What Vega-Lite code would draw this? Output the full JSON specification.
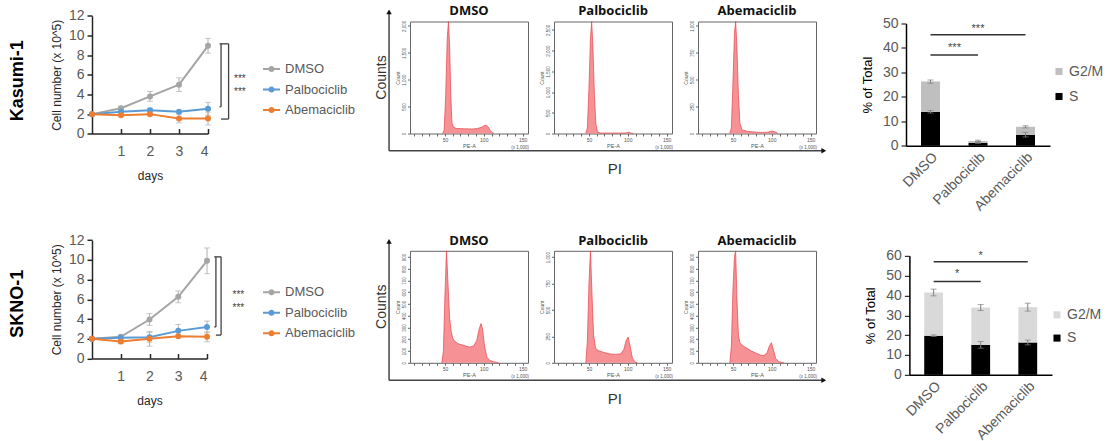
{
"$schema":"https://vega.github.io/schema/vega-lite/v6.json",
"background":"white",
"padding":{"left":8,"top":3.5,"right":2,"bottom":2},
"config":{"view":{"stroke":null},"font":"Liberation Sans","axis":{"labelFont":"Liberation Sans","titleFont":"Liberation Sans"},"legend":{"labelFont":"Liberation Sans"}},
"datasets":{
"growth":[
{"cell":"Kasumi-1","drug":"DMSO","day":0,"value":2.0},{"cell":"Kasumi-1","drug":"DMSO","day":1,"value":2.6},{"cell":"Kasumi-1","drug":"DMSO","day":2,"value":3.8},{"cell":"Kasumi-1","drug":"DMSO","day":3,"value":5.0},{"cell":"Kasumi-1","drug":"DMSO","day":4,"value":8.95},
{"cell":"Kasumi-1","drug":"Palbociclib","day":0,"value":2.0},{"cell":"Kasumi-1","drug":"Palbociclib","day":1,"value":2.25},{"cell":"Kasumi-1","drug":"Palbociclib","day":2,"value":2.4},{"cell":"Kasumi-1","drug":"Palbociclib","day":3,"value":2.25},{"cell":"Kasumi-1","drug":"Palbociclib","day":4,"value":2.55},
{"cell":"Kasumi-1","drug":"Abemaciclib","day":0,"value":2.0},{"cell":"Kasumi-1","drug":"Abemaciclib","day":1,"value":1.88},{"cell":"Kasumi-1","drug":"Abemaciclib","day":2,"value":2.0},{"cell":"Kasumi-1","drug":"Abemaciclib","day":3,"value":1.55},{"cell":"Kasumi-1","drug":"Abemaciclib","day":4,"value":1.55},
{"cell":"SKNO-1","drug":"DMSO","day":0,"value":2.0},{"cell":"SKNO-1","drug":"DMSO","day":1,"value":2.2},{"cell":"SKNO-1","drug":"DMSO","day":2,"value":3.95},{"cell":"SKNO-1","drug":"DMSO","day":3,"value":6.25},{"cell":"SKNO-1","drug":"DMSO","day":4,"value":9.9},
{"cell":"SKNO-1","drug":"Palbociclib","day":0,"value":2.0},{"cell":"SKNO-1","drug":"Palbociclib","day":1,"value":2.1},{"cell":"SKNO-1","drug":"Palbociclib","day":2,"value":2.15},{"cell":"SKNO-1","drug":"Palbociclib","day":3,"value":2.8},{"cell":"SKNO-1","drug":"Palbociclib","day":4,"value":3.2},
{"cell":"SKNO-1","drug":"Abemaciclib","day":0,"value":2.0},{"cell":"SKNO-1","drug":"Abemaciclib","day":1,"value":1.72},{"cell":"SKNO-1","drug":"Abemaciclib","day":2,"value":2.0},{"cell":"SKNO-1","drug":"Abemaciclib","day":3,"value":2.25},{"cell":"SKNO-1","drug":"Abemaciclib","day":4,"value":2.2}
],
"growthErr":[
{"cell":"Kasumi-1","day":1,"lo":2.4,"hi":2.8},{"cell":"Kasumi-1","day":2,"lo":3.3,"hi":4.3},{"cell":"Kasumi-1","day":3,"lo":4.3,"hi":5.7},{"cell":"Kasumi-1","day":4,"lo":8.2,"hi":9.7},
{"cell":"Kasumi-1","day":2,"lo":2.2,"hi":2.6},{"cell":"Kasumi-1","day":4,"lo":1.9,"hi":3.2},
{"cell":"Kasumi-1","day":3,"lo":1.1,"hi":2.0},{"cell":"Kasumi-1","day":4,"lo":0.9,"hi":2.2},
{"cell":"SKNO-1","day":1,"lo":2.05,"hi":2.35},{"cell":"SKNO-1","day":2,"lo":3.35,"hi":4.55},{"cell":"SKNO-1","day":3,"lo":5.65,"hi":6.85},{"cell":"SKNO-1","day":4,"lo":8.6,"hi":11.2},
{"cell":"SKNO-1","day":2,"lo":1.65,"hi":2.65},{"cell":"SKNO-1","day":3,"lo":2.15,"hi":3.45},{"cell":"SKNO-1","day":4,"lo":2.6,"hi":3.8},
{"cell":"SKNO-1","day":1,"lo":1.5,"hi":1.95},{"cell":"SKNO-1","day":2,"lo":1.25,"hi":2.75},{"cell":"SKNO-1","day":4,"lo":1.7,"hi":2.7}
],
"brackets":[
{"cell":"Kasumi-1","day":4.71,"day2":4.71,"value":9.15,"value2":1.5},
{"cell":"Kasumi-1","day":4.4,"day2":4.71,"value":9.15,"value2":9.15},
{"cell":"Kasumi-1","day":4.45,"day2":4.71,"value":1.5,"value2":1.5},
{"cell":"Kasumi-1","day":4.45,"day2":4.45,"value":9.15,"value2":2.75},
{"cell":"Kasumi-1","day":4.4,"day2":4.45,"value":2.75,"value2":2.75},
{"cell":"SKNO-1","day":4.49,"day2":4.49,"value":10.3,"value2":2.37},
{"cell":"SKNO-1","day":4.25,"day2":4.49,"value":10.3,"value2":10.3},
{"cell":"SKNO-1","day":4.31,"day2":4.49,"value":2.37,"value2":2.37},
{"cell":"SKNO-1","day":4.31,"day2":4.31,"value":10.3,"value2":3.2},
{"cell":"SKNO-1","day":4.25,"day2":4.31,"value":3.2,"value2":3.2}
],
"stars":[
{"cell":"Kasumi-1","day":5.1,"value":5.22,"label":"***"},{"cell":"Kasumi-1","day":5.1,"value":3.9,"label":"***"},
{"cell":"SKNO-1","day":5.09,"value":6.11,"label":"***"},{"cell":"SKNO-1","day":5.09,"value":4.86,"label":"***"}
],
"rowlabels":[
{"cell":"Kasumi-1","day":-2.56,"value":5.39,"label":"Kasumi-1"},
{"cell":"SKNO-1","day":-2.58,"value":5.54,"label":"SKNO-1"}
],
"hist":[
{"p":"K1","pe":47,"count":0},{"p":"K1","pe":49,"count":0.03},{"p":"K1","pe":51,"count":0.35},{"p":"K1","pe":53,"count":0.85},{"p":"K1","pe":54.5,"count":1.0},{"p":"K1","pe":56,"count":0.8},{"p":"K1","pe":57.5,"count":0.35},{"p":"K1","pe":59,"count":0.1},{"p":"K1","pe":61,"count":0.055},{"p":"K1","pe":65,"count":0.045},{"p":"K1","pe":75,"count":0.042},{"p":"K1","pe":85,"count":0.04},{"p":"K1","pe":92,"count":0.045},{"p":"K1","pe":97,"count":0.055},{"p":"K1","pe":100,"count":0.068},{"p":"K1","pe":103,"count":0.075},{"p":"K1","pe":105.5,"count":0.06},{"p":"K1","pe":108,"count":0.03},{"p":"K1","pe":111,"count":0.008},{"p":"K1","pe":113,"count":0},
{"p":"K2","pe":46,"count":0},{"p":"K2","pe":48,"count":0.05},{"p":"K2","pe":50,"count":0.4},{"p":"K2","pe":52,"count":0.85},{"p":"K2","pe":53.5,"count":1.0},{"p":"K2","pe":55,"count":0.8},{"p":"K2","pe":57,"count":0.35},{"p":"K2","pe":59,"count":0.08},{"p":"K2","pe":61,"count":0.015},{"p":"K2","pe":65,"count":0.004},{"p":"K2","pe":97,"count":0.004},{"p":"K2","pe":101,"count":0.012},{"p":"K2","pe":104,"count":0.004},{"p":"K2","pe":107,"count":0},
{"p":"K3","pe":46,"count":0},{"p":"K3","pe":48,"count":0.05},{"p":"K3","pe":50,"count":0.45},{"p":"K3","pe":52,"count":0.9},{"p":"K3","pe":53.5,"count":1.0},{"p":"K3","pe":55,"count":0.8},{"p":"K3","pe":57,"count":0.35},{"p":"K3","pe":59,"count":0.09},{"p":"K3","pe":62,"count":0.03},{"p":"K3","pe":70,"count":0.018},{"p":"K3","pe":80,"count":0.012},{"p":"K3","pe":88,"count":0.009},{"p":"K3","pe":95,"count":0.012},{"p":"K3","pe":100,"count":0.022},{"p":"K3","pe":104,"count":0.015},{"p":"K3","pe":108,"count":0},
{"p":"S1","pe":46,"count":0},{"p":"S1","pe":48,"count":0.1},{"p":"S1","pe":50,"count":0.6},{"p":"S1","pe":52,"count":1.0},{"p":"S1","pe":54,"count":0.7},{"p":"S1","pe":56,"count":0.4},{"p":"S1","pe":58,"count":0.28},{"p":"S1","pe":60,"count":0.22},{"p":"S1","pe":63,"count":0.19},{"p":"S1","pe":67,"count":0.17},{"p":"S1","pe":72,"count":0.16},{"p":"S1","pe":77,"count":0.15},{"p":"S1","pe":82,"count":0.14},{"p":"S1","pe":87,"count":0.15},{"p":"S1","pe":91,"count":0.2},{"p":"S1","pe":94,"count":0.3},{"p":"S1","pe":96.5,"count":0.35},{"p":"S1","pe":98.5,"count":0.3},{"p":"S1","pe":101,"count":0.15},{"p":"S1","pe":104,"count":0.05},{"p":"S1","pe":108,"count":0.02},{"p":"S1","pe":113,"count":0.01},{"p":"S1","pe":119,"count":0},
{"p":"S2","pe":46,"count":0},{"p":"S2","pe":48,"count":0.2},{"p":"S2","pe":50,"count":0.7},{"p":"S2","pe":52,"count":1.0},{"p":"S2","pe":54,"count":0.6},{"p":"S2","pe":56,"count":0.25},{"p":"S2","pe":58.5,"count":0.13},{"p":"S2","pe":62,"count":0.11},{"p":"S2","pe":68,"count":0.095},{"p":"S2","pe":76,"count":0.08},{"p":"S2","pe":84,"count":0.075},{"p":"S2","pe":91,"count":0.08},{"p":"S2","pe":95,"count":0.12},{"p":"S2","pe":98,"count":0.2},{"p":"S2","pe":100.5,"count":0.23},{"p":"S2","pe":103,"count":0.15},{"p":"S2","pe":106,"count":0.04},{"p":"S2","pe":109,"count":0.01},{"p":"S2","pe":112,"count":0},
{"p":"S3","pe":46,"count":0},{"p":"S3","pe":48,"count":0.15},{"p":"S3","pe":50,"count":0.65},{"p":"S3","pe":52,"count":0.95},{"p":"S3","pe":53.5,"count":1.0},{"p":"S3","pe":55,"count":0.6},{"p":"S3","pe":57,"count":0.25},{"p":"S3","pe":59,"count":0.18},{"p":"S3","pe":63,"count":0.15},{"p":"S3","pe":68,"count":0.13},{"p":"S3","pe":74,"count":0.105},{"p":"S3","pe":80,"count":0.085},{"p":"S3","pe":86,"count":0.068},{"p":"S3","pe":90,"count":0.065},{"p":"S3","pe":94,"count":0.09},{"p":"S3","pe":97,"count":0.15},{"p":"S3","pe":99.5,"count":0.18},{"p":"S3","pe":102,"count":0.12},{"p":"S3","pe":105,"count":0.04},{"p":"S3","pe":109,"count":0.01},{"p":"S3","pe":116,"count":0}
],
"histTitles":[
{"p":"K1","pe":81,"count":1.0955,"label":"DMSO"},{"p":"K2","pe":81,"count":1.0955,"label":"Palbociclib"},{"p":"K3","pe":81,"count":1.0955,"label":"Abemaciclib"},
{"p":"S1","pe":81,"count":1.089,"label":"DMSO"},{"p":"S2","pe":81,"count":1.089,"label":"Palbociclib"},{"p":"S3","pe":81,"count":1.089,"label":"Abemaciclib"}
],
"histNote":[{"pe":147,"count":-0.125,"label":"(x 1,000)"}],
"laxis":[{"pe":-22,"count":-0.155,"pe2":-22,"count2":1.085},{"pe":-22,"count":-0.155,"pe2":536,"count2":-0.155}],
"arrows":[{"pe":-22,"count":1.085,"shape":"triangle-up"},{"pe":538,"count":-0.155,"shape":"triangle-right"}],
"countsLabel":[{"pe":-31.5,"count":0.5,"label":"Counts"}],
"piLabel":[{"pe":268.8,"count":-0.32,"label":"PI"}],
"bars":[
{"cell":"Kasumi-1","drug":"DMSO","phase":"S","pct":13.9},{"cell":"Kasumi-1","drug":"DMSO","phase":"G2/M","pct":12.4},
{"cell":"Kasumi-1","drug":"Palbociclib","phase":"S","pct":1.2},{"cell":"Kasumi-1","drug":"Palbociclib","phase":"G2/M","pct":0.8},
{"cell":"Kasumi-1","drug":"Abemaciclib","phase":"S","pct":4.5},{"cell":"Kasumi-1","drug":"Abemaciclib","phase":"G2/M","pct":3.3},
{"cell":"SKNO-1","drug":"DMSO","phase":"S","pct":19.7},{"cell":"SKNO-1","drug":"DMSO","phase":"G2/M","pct":21.8},
{"cell":"SKNO-1","drug":"Palbociclib","phase":"S","pct":15.1},{"cell":"SKNO-1","drug":"Palbociclib","phase":"G2/M","pct":18.8},
{"cell":"SKNO-1","drug":"Abemaciclib","phase":"S","pct":16.3},{"cell":"SKNO-1","drug":"Abemaciclib","phase":"G2/M","pct":17.8}
],
"barErr":[
{"cell":"Kasumi-1","drug":"DMSO","lo":25.6,"hi":26.9},{"cell":"Kasumi-1","drug":"DMSO","lo":13.4,"hi":14.4},
{"cell":"Kasumi-1","drug":"Palbociclib","lo":1.7,"hi":2.3},{"cell":"Kasumi-1","drug":"Palbociclib","lo":1.0,"hi":1.4},
{"cell":"Kasumi-1","drug":"Abemaciclib","lo":7.3,"hi":8.2},{"cell":"Kasumi-1","drug":"Abemaciclib","lo":3.6,"hi":5.5},
{"cell":"SKNO-1","drug":"DMSO","lo":39.8,"hi":43.2},{"cell":"SKNO-1","drug":"DMSO","lo":19.3,"hi":20.1},
{"cell":"SKNO-1","drug":"Palbociclib","lo":32.4,"hi":35.4},{"cell":"SKNO-1","drug":"Palbociclib","lo":13.4,"hi":16.8},
{"cell":"SKNO-1","drug":"Abemaciclib","lo":32.1,"hi":36.1},{"cell":"SKNO-1","drug":"Abemaciclib","lo":15.1,"hi":17.5}
],
"sig":[
{"cell":"Kasumi-1","drug":"DMSO","drug2":"Palbociclib","pct":37.1},{"cell":"Kasumi-1","drug":"DMSO","drug2":"Abemaciclib","pct":45.4},
{"cell":"SKNO-1","drug":"DMSO","drug2":"Palbociclib","pct":47},{"cell":"SKNO-1","drug":"DMSO","drug2":"Abemaciclib","pct":57}
],
"sigStars":[
{"cell":"Kasumi-1","drug":"Palbociclib","pct":38.6,"pos":"mid","label":"***"},{"cell":"Kasumi-1","drug":"Palbociclib","pct":46.5,"pos":"top","label":"***"},
{"cell":"SKNO-1","drug":"Palbociclib","pct":49.3,"pos":"mid","label":"*"},{"cell":"SKNO-1","drug":"Palbociclib","pct":58.3,"pos":"top","label":"*"}
]
},
"columns":5,
"spacing":{"row":117.3,"column":26},
"bounds":"flush",
"align":"each",
"resolve":{"scale":{"color":"independent","fill":"independent","stroke":"independent","shape":"independent"},"legend":{"color":"independent","fill":"independent","stroke":"independent"}},
"concat":[
{
"width":291.3,"height":112,
"encoding":{
"x":{"field":"day","type":"quantitative","title":"days","scale":{"domain":[0,4],"range":[0,116]},"axis":{"values":[1,2,3,4],"tickSize":-5,"labelPadding":16,"labelFontSize":14,"labelColor":"#595959","domainColor":"#262626","domainWidth":1.5,"tickColor":"#262626","tickWidth":1.5,"grid":false,"titleFontSize":12,"titleFontWeight":"normal","titleColor":"#262626","titlePadding":12}},
"y":{"field":"value","type":"quantitative","title":"Cell number (x 10^5)","scale":{"domain":[0,12],"range":[112.3,-5.7]},"axis":{"values":[0,2,4,6,8,10,12],"tickSize":5,"labelPadding":3,"labelFontSize":14,"labelColor":"#595959","domainColor":"#262626","domainWidth":1.5,"tickColor":"#262626","tickWidth":1.5,"grid":false,"titleFontSize":12,"titleFontWeight":"normal","titleColor":"#262626","titlePadding":5}}
},
"layer":[
{"data":{"name":"growthErr"},"transform":[{"filter":"datum.cell==='Kasumi-1'"}],"mark":{"type":"errorbar","ticks":true,"size":6,"thickness":1,"color":"#b0b0b0"},
 "encoding":{"y":{"field":"lo","type":"quantitative","title":"Cell number (x 10^5)"},"y2":{"field":"hi"}}},
{"data":{"name":"growth"},"transform":[{"filter":"datum.cell==='Kasumi-1'"}],"mark":{"type":"line","strokeWidth":2},
 "encoding":{"stroke":{"field":"drug","type":"nominal","scale":{"domain":["DMSO","Palbociclib","Abemaciclib"],"range":["#a5a5a5","#5b9bd5","#ed7d31"]},"legend":{"orient":"none","legendX":171,"legendY":39,"title":null,"symbolType":"M-1,-0.12L1,-0.12L1,0.12L-1,0.12Z M0.36,0A0.36,0.36 0 1,1 -0.36,0A0.36,0.36 0 1,1 0.36,0Z","symbolSize":289,"symbolStrokeWidth":0,"labelFontSize":13,"labelColor":"#595959","labelOffset":5,"rowPadding":4.5,"padding":0}}}},
{"data":{"name":"growth"},"transform":[{"filter":"datum.cell==='Kasumi-1'"}],"mark":{"type":"point","filled":true,"size":36,"opacity":1,"strokeWidth":0},
 "encoding":{"fill":{"field":"drug","type":"nominal","scale":{"domain":["DMSO","Palbociclib","Abemaciclib"],"range":["#a5a5a5","#5b9bd5","#ed7d31"]},"legend":{"orient":"none","legendX":171,"legendY":39,"title":null,"symbolType":"M-1,-0.12L1,-0.12L1,0.12L-1,0.12Z M0.36,0A0.36,0.36 0 1,1 -0.36,0A0.36,0.36 0 1,1 0.36,0Z","symbolSize":289,"symbolStrokeWidth":0,"labelFontSize":13,"labelColor":"#595959","labelOffset":5,"rowPadding":4.5,"padding":0}}}},
{"data":{"name":"brackets"},"transform":[{"filter":"datum.cell==='Kasumi-1'"}],"mark":{"type":"rule","color":"#404040","strokeWidth":1.3},
 "encoding":{"x2":{"field":"day2"},"y2":{"field":"value2"}}},
{"data":{"name":"stars"},"transform":[{"filter":"datum.cell==='Kasumi-1'"}],"mark":{"type":"text","fontSize":10,"color":"#404040","baseline":"alphabetic","align":"center"},
 "encoding":{"text":{"field":"label"}}},
{"data":{"name":"rowlabels"},"transform":[{"filter":"datum.cell==='Kasumi-1'"}],"mark":{"type":"text","fontSize":18,"fontWeight":"bold","angle":270,"color":"#000","align":"center","baseline":"middle"},
 "encoding":{"text":{"field":"label"}}}
]
},
{
"width":118,"height":112,"view":{"stroke":"#666","strokeWidth":1},
"encoding":{
"x":{"field":"pe","type":"quantitative","title":"PE-A","scale":{"domain":[5,157]},"axis":{"values":[10,20,30,40,50,60,70,80,90,100,110,120,130,140,150],"labelExpr":"datum.value % 50 === 0 ? datum.label : ''","labelFontSize":5,"labelColor":"#555","labelPadding":1,"tickSize":2.5,"tickColor":"#666","domain":false,"grid":false,"titleFontSize":5.5,"titleFontWeight":"normal","titleColor":"#555","titlePadding":1}},
"y":{"field":"count","type":"quantitative","title":"Count","scale":{"domain":[0,1]},"axis":{"values":[0,0.24,0.48,0.72,0.96],"labelExpr":"format(datum.value*2083,',.0f')","labelAngle":270,"labelFontSize":4.5,"labelColor":"#555","labelPadding":1,"tickSize":2.5,"tickColor":"#666","domain":false,"grid":false,"titleFontSize":5,"titleFontWeight":"normal","titleColor":"#555","titlePadding":1}}
},
"layer":[
{"data":{"name":"hist"},"transform":[{"filter":"datum.p==='K1'"}],"mark":{"type":"area","color":"#f2646a","line":{"color":"#e5424a","strokeWidth":0.7}}},
{"data":{"name":"histNote"},"mark":{"type":"text","fontSize":4.5,"color":"#555"},"encoding":{"text":{"field":"label"}}},
{"data":{"name":"histTitles"},"transform":[{"filter":"datum.p==='K1'"}],"mark":{"type":"text","font":"Open Sans","fontSize":13,"fontWeight":"bold","color":"#111","baseline":"middle"},"encoding":{"text":{"field":"label"}}},
{"data":{"name":"laxis"},"mark":{"type":"rule","color":"#444","strokeWidth":1.5},"encoding":{"x2":{"field":"pe2"},"y2":{"field":"count2"}}},
{"data":{"name":"arrows"},"mark":{"type":"point","filled":true,"size":30,"color":"#111","opacity":1},"encoding":{"shape":{"field":"shape","type":"nominal","scale":null}}},
{"data":{"name":"countsLabel"},"mark":{"type":"text","fontSize":14,"color":"#333","angle":270,"align":"center","baseline":"middle"},"encoding":{"text":{"field":"label"}}},
{"data":{"name":"piLabel"},"mark":{"type":"text","fontSize":15,"color":"#333","align":"center","baseline":"middle"},"encoding":{"text":{"field":"label"}}}
]
},
{
"width":118,"height":112,"view":{"stroke":"#666","strokeWidth":1},
"encoding":{
"x":{"field":"pe","type":"quantitative","title":"PE-A","scale":{"domain":[5,157]},"axis":{"values":[10,20,30,40,50,60,70,80,90,100,110,120,130,140,150],"labelExpr":"datum.value % 50 === 0 ? datum.label : ''","labelFontSize":5,"labelColor":"#555","labelPadding":1,"tickSize":2.5,"tickColor":"#666","domain":false,"grid":false,"titleFontSize":5.5,"titleFontWeight":"normal","titleColor":"#555","titlePadding":1}},
"y":{"field":"count","type":"quantitative","title":"Count","scale":{"domain":[0,1]},"axis":{"values":[0,0.185,0.37,0.555,0.74,0.925],"labelExpr":"format(datum.value*2703,',.0f')","labelAngle":270,"labelFontSize":4.5,"labelColor":"#555","labelPadding":1,"tickSize":2.5,"tickColor":"#666","domain":false,"grid":false,"titleFontSize":5,"titleFontWeight":"normal","titleColor":"#555","titlePadding":1}}
},
"layer":[
{"data":{"name":"hist"},"transform":[{"filter":"datum.p==='K2'"}],"mark":{"type":"area","color":"#f2646a","line":{"color":"#e5424a","strokeWidth":0.7}}},
{"data":{"name":"histNote"},"mark":{"type":"text","fontSize":4.5,"color":"#555"},"encoding":{"text":{"field":"label"}}},
{"data":{"name":"histTitles"},"transform":[{"filter":"datum.p==='K2'"}],"mark":{"type":"text","font":"Open Sans","fontSize":13,"fontWeight":"bold","color":"#111","baseline":"middle"},"encoding":{"text":{"field":"label"}}}
]
},
{
"width":118,"height":112,"view":{"stroke":"#666","strokeWidth":1},
"encoding":{
"x":{"field":"pe","type":"quantitative","title":"PE-A","scale":{"domain":[5,157]},"axis":{"values":[10,20,30,40,50,60,70,80,90,100,110,120,130,140,150],"labelExpr":"datum.value % 50 === 0 ? datum.label : ''","labelFontSize":5,"labelColor":"#555","labelPadding":1,"tickSize":2.5,"tickColor":"#666","domain":false,"grid":false,"titleFontSize":5.5,"titleFontWeight":"normal","titleColor":"#555","titlePadding":1}},
"y":{"field":"count","type":"quantitative","title":"Count","scale":{"domain":[0,1]},"axis":{"values":[0,0.24,0.48,0.72,0.96],"labelExpr":"format(datum.value*1041.7,',.0f')","labelAngle":270,"labelFontSize":4.5,"labelColor":"#555","labelPadding":1,"tickSize":2.5,"tickColor":"#666","domain":false,"grid":false,"titleFontSize":5,"titleFontWeight":"normal","titleColor":"#555","titlePadding":1}}
},
"layer":[
{"data":{"name":"hist"},"transform":[{"filter":"datum.p==='K3'"}],"mark":{"type":"area","color":"#f2646a","line":{"color":"#e5424a","strokeWidth":0.7}}},
{"data":{"name":"histNote"},"mark":{"type":"text","fontSize":4.5,"color":"#555"},"encoding":{"text":{"field":"label"}}},
{"data":{"name":"histTitles"},"transform":[{"filter":"datum.p==='K3'"}],"mark":{"type":"text","font":"Open Sans","fontSize":13,"fontWeight":"bold","color":"#111","baseline":"middle"},"encoding":{"text":{"field":"label"}}}
]
},
{
"width":208,"height":112,
"encoding":{
"x":{"field":"drug","type":"nominal","sort":["DMSO","Palbociclib","Abemaciclib"],"scale":{"domain":["DMSO","Palbociclib","Abemaciclib"],"range":[64,208],"paddingInner":0.6,"paddingOuter":0.315},"axis":{"offset":12.3,"labelAngle":-45,"labelFontSize":14,"labelColor":"#595959","labelPadding":4,"ticks":false,"domainColor":"#000","domainWidth":1.5,"title":null}},
"y":{"field":"pct","type":"quantitative","title":"% of Total","scale":{"domain":[0,50],"range":[124.3,2]},"axis":{"values":[0,10,20,30,40,50],"offset":-64,"tickSize":5,"labelPadding":3,"labelFontSize":14,"labelColor":"#595959","domainColor":"#000","domainWidth":1.5,"tickColor":"#000","grid":false,"titleFontSize":13,"titleFontWeight":"normal","titleColor":"#000","titlePadding":8}}
},
"layer":[
{"data":{"name":"bars"},"transform":[{"filter":"datum.cell==='Kasumi-1'"}],"mark":{"type":"bar"},
 "encoding":{"color":{"field":"phase","type":"nominal","scale":{"domain":["G2/M","S"],"range":["#bfbfbf","#000000"]},"legend":{"orient":"none","legendX":210,"legendY":43,"title":null,"symbolType":"square","symbolSize":50,"labelFontSize":14,"labelColor":"#595959","labelOffset":3,"rowPadding":11,"padding":0}},"order":{"field":"phase","sort":"descending"}}},
{"data":{"name":"barErr"},"transform":[{"filter":"datum.cell==='Kasumi-1'"}],"mark":{"type":"errorbar","ticks":true,"size":6,"thickness":1,"color":"#808080"},
 "encoding":{"y":{"field":"lo","type":"quantitative","title":"% of Total"},"y2":{"field":"hi"}}},
{"data":{"name":"sig"},"transform":[{"filter":"datum.cell==='Kasumi-1'"}],"mark":{"type":"rule","color":"#333","strokeWidth":1.5},"encoding":{"x2":{"field":"drug2"}}},
{"data":{"name":"sigStars"},"transform":[{"filter":"datum.cell==='Kasumi-1' && datum.pos==='mid'"}],"mark":{"type":"text","fontSize":11,"color":"#444","baseline":"alphabetic","dx":-23.5},"encoding":{"text":{"field":"label"}}},
{"data":{"name":"sigStars"},"transform":[{"filter":"datum.cell==='Kasumi-1' && datum.pos==='top'"}],"mark":{"type":"text","fontSize":11,"color":"#444","baseline":"alphabetic"},"encoding":{"text":{"field":"label"}}}
]
},
{
"width":291.3,"height":112,
"encoding":{
"x":{"field":"day","type":"quantitative","title":"days","scale":{"domain":[0,4],"range":[0,115]},"axis":{"offset":-4.3,"values":[1,2,3,4],"tickSize":-5,"labelPadding":16,"labelFontSize":14,"labelColor":"#595959","domainColor":"#262626","domainWidth":1.5,"tickColor":"#262626","tickWidth":1.5,"grid":false,"titleFontSize":12,"titleFontWeight":"normal","titleColor":"#262626","titlePadding":12}},
"y":{"field":"value","type":"quantitative","title":"Cell number (x 10^5)","scale":{"domain":[0,12],"range":[107.7,-10.7]},"axis":{"values":[0,2,4,6,8,10,12],"tickSize":5,"labelPadding":3,"labelFontSize":14,"labelColor":"#595959","domainColor":"#262626","domainWidth":1.5,"tickColor":"#262626","tickWidth":1.5,"grid":false,"titleFontSize":12,"titleFontWeight":"normal","titleColor":"#262626","titlePadding":5}}
},
"layer":[
{"data":{"name":"growthErr"},"transform":[{"filter":"datum.cell==='SKNO-1'"}],"mark":{"type":"errorbar","ticks":true,"size":6,"thickness":1,"color":"#b0b0b0"},
 "encoding":{"y":{"field":"lo","type":"quantitative","title":"Cell number (x 10^5)"},"y2":{"field":"hi"}}},
{"data":{"name":"growth"},"transform":[{"filter":"datum.cell==='SKNO-1'"}],"mark":{"type":"line","strokeWidth":2},
 "encoding":{"stroke":{"field":"drug","type":"nominal","scale":{"domain":["DMSO","Palbociclib","Abemaciclib"],"range":["#a5a5a5","#5b9bd5","#ed7d31"]},"legend":{"orient":"none","legendX":171,"legendY":33,"title":null,"symbolType":"M-1,-0.12L1,-0.12L1,0.12L-1,0.12Z M0.36,0A0.36,0.36 0 1,1 -0.36,0A0.36,0.36 0 1,1 0.36,0Z","symbolSize":289,"symbolStrokeWidth":0,"labelFontSize":13,"labelColor":"#595959","labelOffset":5,"rowPadding":4.5,"padding":0}}}},
{"data":{"name":"growth"},"transform":[{"filter":"datum.cell==='SKNO-1'"}],"mark":{"type":"point","filled":true,"size":36,"opacity":1,"strokeWidth":0},
 "encoding":{"fill":{"field":"drug","type":"nominal","scale":{"domain":["DMSO","Palbociclib","Abemaciclib"],"range":["#a5a5a5","#5b9bd5","#ed7d31"]},"legend":{"orient":"none","legendX":171,"legendY":33,"title":null,"symbolType":"M-1,-0.12L1,-0.12L1,0.12L-1,0.12Z M0.36,0A0.36,0.36 0 1,1 -0.36,0A0.36,0.36 0 1,1 0.36,0Z","symbolSize":289,"symbolStrokeWidth":0,"labelFontSize":13,"labelColor":"#595959","labelOffset":5,"rowPadding":4.5,"padding":0}}}},
{"data":{"name":"brackets"},"transform":[{"filter":"datum.cell==='SKNO-1'"}],"mark":{"type":"rule","color":"#404040","strokeWidth":1.3},
 "encoding":{"x2":{"field":"day2"},"y2":{"field":"value2"}}},
{"data":{"name":"stars"},"transform":[{"filter":"datum.cell==='SKNO-1'"}],"mark":{"type":"text","fontSize":10,"color":"#404040","baseline":"alphabetic","align":"center"},
 "encoding":{"text":{"field":"label"}}},
{"data":{"name":"rowlabels"},"transform":[{"filter":"datum.cell==='SKNO-1'"}],"mark":{"type":"text","fontSize":18,"fontWeight":"bold","angle":270,"color":"#000","align":"center","baseline":"middle"},
 "encoding":{"text":{"field":"label"}}}
]
},
{
"width":118,"height":112,"view":{"stroke":"#666","strokeWidth":1},
"encoding":{
"x":{"field":"pe","type":"quantitative","title":"PE-A","scale":{"domain":[5,157]},"axis":{"values":[10,20,30,40,50,60,70,80,90,100,110,120,130,140,150],"labelExpr":"datum.value % 50 === 0 ? datum.label : ''","labelFontSize":5,"labelColor":"#555","labelPadding":1,"tickSize":2.5,"tickColor":"#666","domain":false,"grid":false,"titleFontSize":5.5,"titleFontWeight":"normal","titleColor":"#555","titlePadding":1}},
"y":{"field":"count","type":"quantitative","title":"Count","scale":{"domain":[0,1]},"axis":{"values":[0,0.105,0.21,0.315,0.42,0.525,0.63,0.735,0.84,0.945],"labelExpr":"format(datum.value*952.4,',.0f')","labelAngle":270,"labelFontSize":4.5,"labelColor":"#555","labelPadding":1,"tickSize":2.5,"tickColor":"#666","domain":false,"grid":false,"titleFontSize":5,"titleFontWeight":"normal","titleColor":"#555","titlePadding":1}}
},
"layer":[
{"data":{"name":"hist"},"transform":[{"filter":"datum.p==='S1'"}],"mark":{"type":"area","color":"#f2646a","line":{"color":"#e5424a","strokeWidth":0.7}}},
{"data":{"name":"histNote"},"mark":{"type":"text","fontSize":4.5,"color":"#555"},"encoding":{"text":{"field":"label"}}},
{"data":{"name":"histTitles"},"transform":[{"filter":"datum.p==='S1'"}],"mark":{"type":"text","font":"Open Sans","fontSize":13,"fontWeight":"bold","color":"#111","baseline":"middle"},"encoding":{"text":{"field":"label"}}},
{"data":{"name":"laxis"},"mark":{"type":"rule","color":"#444","strokeWidth":1.5},"encoding":{"x2":{"field":"pe2"},"y2":{"field":"count2"}}},
{"data":{"name":"arrows"},"mark":{"type":"point","filled":true,"size":30,"color":"#111","opacity":1},"encoding":{"shape":{"field":"shape","type":"nominal","scale":null}}},
{"data":{"name":"countsLabel"},"mark":{"type":"text","fontSize":14,"color":"#333","angle":270,"align":"center","baseline":"middle"},"encoding":{"text":{"field":"label"}}},
{"data":{"name":"piLabel"},"mark":{"type":"text","fontSize":15,"color":"#333","align":"center","baseline":"middle"},"encoding":{"text":{"field":"label"}}}
]
},
{
"width":118,"height":112,"view":{"stroke":"#666","strokeWidth":1},
"encoding":{
"x":{"field":"pe","type":"quantitative","title":"PE-A","scale":{"domain":[5,157]},"axis":{"values":[10,20,30,40,50,60,70,80,90,100,110,120,130,140,150],"labelExpr":"datum.value % 50 === 0 ? datum.label : ''","labelFontSize":5,"labelColor":"#555","labelPadding":1,"tickSize":2.5,"tickColor":"#666","domain":false,"grid":false,"titleFontSize":5.5,"titleFontWeight":"normal","titleColor":"#555","titlePadding":1}},
"y":{"field":"count","type":"quantitative","title":"Count","scale":{"domain":[0,1]},"axis":{"values":[0,0.236,0.472,0.708,0.944],"labelExpr":"format(datum.value*1059.3,',.0f')","labelAngle":270,"labelFontSize":4.5,"labelColor":"#555","labelPadding":1,"tickSize":2.5,"tickColor":"#666","domain":false,"grid":false,"titleFontSize":5,"titleFontWeight":"normal","titleColor":"#555","titlePadding":1}}
},
"layer":[
{"data":{"name":"hist"},"transform":[{"filter":"datum.p==='S2'"}],"mark":{"type":"area","color":"#f2646a","line":{"color":"#e5424a","strokeWidth":0.7}}},
{"data":{"name":"histNote"},"mark":{"type":"text","fontSize":4.5,"color":"#555"},"encoding":{"text":{"field":"label"}}},
{"data":{"name":"histTitles"},"transform":[{"filter":"datum.p==='S2'"}],"mark":{"type":"text","font":"Open Sans","fontSize":13,"fontWeight":"bold","color":"#111","baseline":"middle"},"encoding":{"text":{"field":"label"}}}
]
},
{
"width":118,"height":112,"view":{"stroke":"#666","strokeWidth":1},
"encoding":{
"x":{"field":"pe","type":"quantitative","title":"PE-A","scale":{"domain":[5,157]},"axis":{"values":[10,20,30,40,50,60,70,80,90,100,110,120,130,140,150],"labelExpr":"datum.value % 50 === 0 ? datum.label : ''","labelFontSize":5,"labelColor":"#555","labelPadding":1,"tickSize":2.5,"tickColor":"#666","domain":false,"grid":false,"titleFontSize":5.5,"titleFontWeight":"normal","titleColor":"#555","titlePadding":1}},
"y":{"field":"count","type":"quantitative","title":"Count","scale":{"domain":[0,1]},"axis":{"values":[0,0.105,0.21,0.315,0.42,0.525,0.63,0.735,0.84,0.945],"labelExpr":"format(datum.value*952.4,',.0f')","labelAngle":270,"labelFontSize":4.5,"labelColor":"#555","labelPadding":1,"tickSize":2.5,"tickColor":"#666","domain":false,"grid":false,"titleFontSize":5,"titleFontWeight":"normal","titleColor":"#555","titlePadding":1}}
},
"layer":[
{"data":{"name":"hist"},"transform":[{"filter":"datum.p==='S3'"}],"mark":{"type":"area","color":"#f2646a","line":{"color":"#e5424a","strokeWidth":0.7}}},
{"data":{"name":"histNote"},"mark":{"type":"text","fontSize":4.5,"color":"#555"},"encoding":{"text":{"field":"label"}}},
{"data":{"name":"histTitles"},"transform":[{"filter":"datum.p==='S3'"}],"mark":{"type":"text","font":"Open Sans","fontSize":13,"fontWeight":"bold","color":"#111","baseline":"middle"},"encoding":{"text":{"field":"label"}}}
]
},
{
"width":208,"height":112,
"encoding":{
"x":{"field":"drug","type":"nominal","sort":["DMSO","Palbociclib","Abemaciclib"],"scale":{"domain":["DMSO","Palbociclib","Abemaciclib"],"range":[67.4,210],"paddingInner":0.6,"paddingOuter":0.315},"axis":{"offset":12,"labelAngle":-45,"labelFontSize":14,"labelColor":"#595959","labelPadding":4,"ticks":false,"domainColor":"#000","domainWidth":1.5,"title":null}},
"y":{"field":"pct","type":"quantitative","title":"% of Total","scale":{"domain":[0,60],"range":[124,5]},"axis":{"values":[0,10,20,30,40,50,60],"offset":-67.4,"tickSize":5,"labelPadding":3,"labelFontSize":14,"labelColor":"#595959","domainColor":"#000","domainWidth":1.5,"tickColor":"#000","grid":false,"titleFontSize":13,"titleFontWeight":"normal","titleColor":"#000","titlePadding":8}}
},
"layer":[
{"data":{"name":"bars"},"transform":[{"filter":"datum.cell==='SKNO-1'"}],"mark":{"type":"bar"},
 "encoding":{"color":{"field":"phase","type":"nominal","scale":{"domain":["G2/M","S"],"range":["#d9d9d9","#000000"]},"legend":{"orient":"none","legendX":208,"legendY":57,"title":null,"symbolType":"square","symbolSize":50,"labelFontSize":14,"labelColor":"#595959","labelOffset":3,"rowPadding":9.3,"padding":0}},"order":{"field":"phase","sort":"descending"}}},
{"data":{"name":"barErr"},"transform":[{"filter":"datum.cell==='SKNO-1'"}],"mark":{"type":"errorbar","ticks":true,"size":6,"thickness":1,"color":"#808080"},
 "encoding":{"y":{"field":"lo","type":"quantitative","title":"% of Total"},"y2":{"field":"hi"}}},
{"data":{"name":"sig"},"transform":[{"filter":"datum.cell==='SKNO-1'"}],"mark":{"type":"rule","color":"#333","strokeWidth":1.5},"encoding":{"x2":{"field":"drug2"}}},
{"data":{"name":"sigStars"},"transform":[{"filter":"datum.cell==='SKNO-1' && datum.pos==='mid'"}],"mark":{"type":"text","fontSize":11,"color":"#444","baseline":"alphabetic","dx":-23.5},"encoding":{"text":{"field":"label"}}},
{"data":{"name":"sigStars"},"transform":[{"filter":"datum.cell==='SKNO-1' && datum.pos==='top'"}],"mark":{"type":"text","fontSize":11,"color":"#444","baseline":"alphabetic"},"encoding":{"text":{"field":"label"}}}
]
}
]
}
